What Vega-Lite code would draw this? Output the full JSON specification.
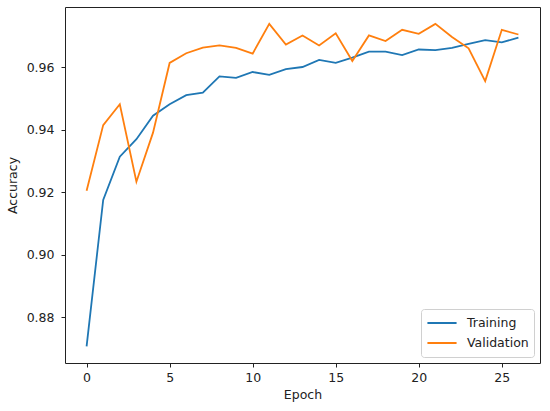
{
  "$schema": "https://vega.github.io/schema/vega-lite/v6.json",
  "autosize": {"type": "none"},
  "padding": {"left": 65, "top": 7, "right": 10, "bottom": 48},
  "width": 475,
  "height": 356,
  "background": "white",
  "config": {
    "view": {"stroke": "#222", "strokeWidth": 1},
    "font": "DejaVu Sans",
    "axis": {
      "grid": false,
      "domain": false,
      "tickColor": "#222",
      "tickSize": 4,
      "tickWidth": 1,
      "labelColor": "#222",
      "labelFontSize": 12.5,
      "labelPadding": 4,
      "titleColor": "#222",
      "titleFontSize": 12.5,
      "titleFontWeight": "normal"
    }
  },
  "data": {
    "values": [
      {"epoch": 0, "accuracy": 0.8706, "series": "Training"},
      {"epoch": 1, "accuracy": 0.9175, "series": "Training"},
      {"epoch": 2, "accuracy": 0.9313, "series": "Training"},
      {"epoch": 3, "accuracy": 0.9369, "series": "Training"},
      {"epoch": 4, "accuracy": 0.9444, "series": "Training"},
      {"epoch": 5, "accuracy": 0.9481, "series": "Training"},
      {"epoch": 6, "accuracy": 0.9510, "series": "Training"},
      {"epoch": 7, "accuracy": 0.9518, "series": "Training"},
      {"epoch": 8, "accuracy": 0.9570, "series": "Training"},
      {"epoch": 9, "accuracy": 0.9565, "series": "Training"},
      {"epoch": 10, "accuracy": 0.9584, "series": "Training"},
      {"epoch": 11, "accuracy": 0.9575, "series": "Training"},
      {"epoch": 12, "accuracy": 0.9593, "series": "Training"},
      {"epoch": 13, "accuracy": 0.9600, "series": "Training"},
      {"epoch": 14, "accuracy": 0.9623, "series": "Training"},
      {"epoch": 15, "accuracy": 0.9613, "series": "Training"},
      {"epoch": 16, "accuracy": 0.9630, "series": "Training"},
      {"epoch": 17, "accuracy": 0.9649, "series": "Training"},
      {"epoch": 18, "accuracy": 0.9649, "series": "Training"},
      {"epoch": 19, "accuracy": 0.9638, "series": "Training"},
      {"epoch": 20, "accuracy": 0.9656, "series": "Training"},
      {"epoch": 21, "accuracy": 0.9654, "series": "Training"},
      {"epoch": 22, "accuracy": 0.9661, "series": "Training"},
      {"epoch": 23, "accuracy": 0.9674, "series": "Training"},
      {"epoch": 24, "accuracy": 0.9686, "series": "Training"},
      {"epoch": 25, "accuracy": 0.9679, "series": "Training"},
      {"epoch": 26, "accuracy": 0.9694, "series": "Training"},
      {"epoch": 0, "accuracy": 0.9204, "series": "Validation"},
      {"epoch": 1, "accuracy": 0.9414, "series": "Validation"},
      {"epoch": 2, "accuracy": 0.9481, "series": "Validation"},
      {"epoch": 3, "accuracy": 0.9233, "series": "Validation"},
      {"epoch": 4, "accuracy": 0.9390, "series": "Validation"},
      {"epoch": 5, "accuracy": 0.9613, "series": "Validation"},
      {"epoch": 6, "accuracy": 0.9644, "series": "Validation"},
      {"epoch": 7, "accuracy": 0.9662, "series": "Validation"},
      {"epoch": 8, "accuracy": 0.9669, "series": "Validation"},
      {"epoch": 9, "accuracy": 0.9661, "series": "Validation"},
      {"epoch": 10, "accuracy": 0.9643, "series": "Validation"},
      {"epoch": 11, "accuracy": 0.9738, "series": "Validation"},
      {"epoch": 12, "accuracy": 0.9672, "series": "Validation"},
      {"epoch": 13, "accuracy": 0.9701, "series": "Validation"},
      {"epoch": 14, "accuracy": 0.9669, "series": "Validation"},
      {"epoch": 15, "accuracy": 0.9708, "series": "Validation"},
      {"epoch": 16, "accuracy": 0.9619, "series": "Validation"},
      {"epoch": 17, "accuracy": 0.9701, "series": "Validation"},
      {"epoch": 18, "accuracy": 0.9683, "series": "Validation"},
      {"epoch": 19, "accuracy": 0.9719, "series": "Validation"},
      {"epoch": 20, "accuracy": 0.9706, "series": "Validation"},
      {"epoch": 21, "accuracy": 0.9738, "series": "Validation"},
      {"epoch": 22, "accuracy": 0.9696, "series": "Validation"},
      {"epoch": 23, "accuracy": 0.9660, "series": "Validation"},
      {"epoch": 24, "accuracy": 0.9555, "series": "Validation"},
      {"epoch": 25, "accuracy": 0.9719, "series": "Validation"},
      {"epoch": 26, "accuracy": 0.9704, "series": "Validation"}
    ]
  },
  "mark": {"type": "line", "strokeWidth": 1.8},
  "encoding": {
    "x": {
      "field": "epoch",
      "type": "quantitative",
      "scale": {"domain": [-1.3, 27.3], "nice": false, "zero": false},
      "axis": {"values": [0, 5, 10, 15, 20, 25], "title": "Epoch", "titlePadding": 5}
    },
    "y": {
      "field": "accuracy",
      "type": "quantitative",
      "scale": {"domain": [0.8653, 0.9792], "nice": false, "zero": false},
      "axis": {"values": [0.88, 0.90, 0.92, 0.94, 0.96], "format": ".2f", "title": "Accuracy", "labelPadding": 7, "titlePadding": 7}
    },
    "color": {
      "field": "series",
      "type": "nominal",
      "scale": {"domain": ["Training", "Validation"], "range": ["#1f77b4", "#ff7f0e"]},
      "legend": {
        "title": null,
        "orient": "bottom-right",
        "offset": 6,
        "padding": 5,
        "fillColor": "rgba(255,255,255,0.8)",
        "strokeColor": "#d0d0d0",
        "cornerRadius": 3,
        "symbolType": "stroke",
        "symbolSize": 850,
        "symbolStrokeWidth": 2,
        "clipHeight": 18,
        "labelFontSize": 12.5,
        "labelColor": "#222",
        "labelOffset": 9,
        "rowPadding": 2
      }
    }
  }
}
